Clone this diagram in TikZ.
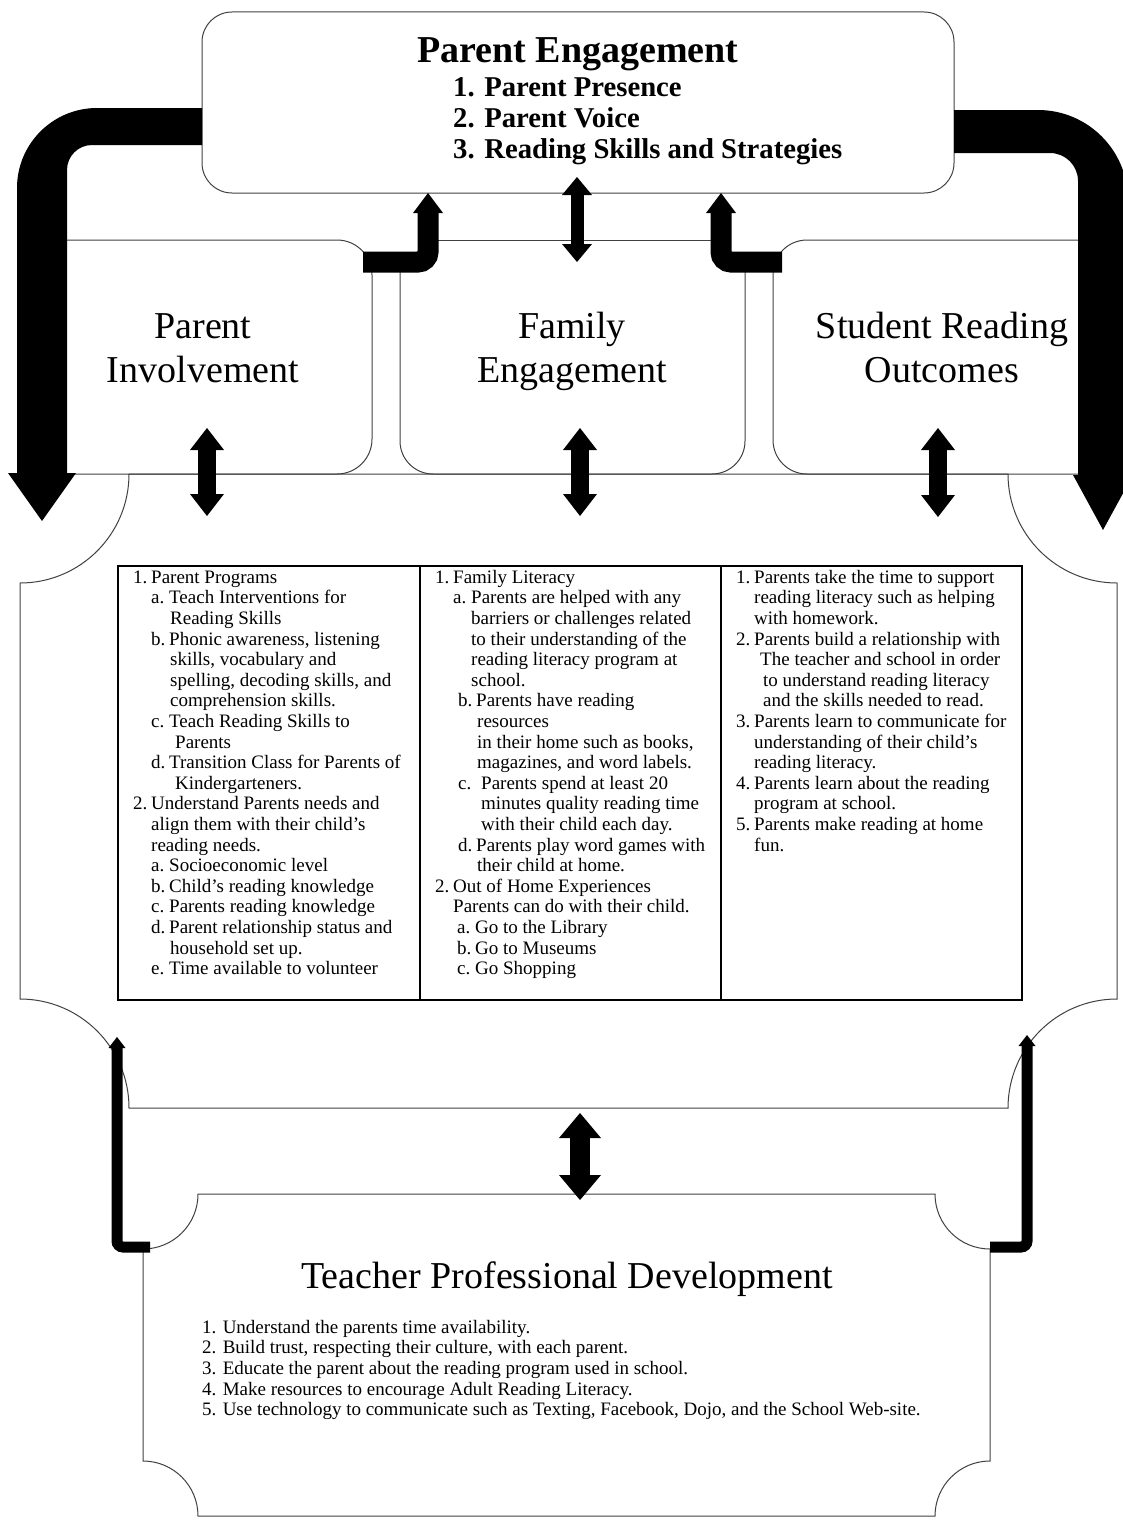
\documentclass[tikz,border=0pt]{standalone}
\usepackage{fontspec}
\setmainfont{Liberation Serif}
\usetikzlibrary{arrows.meta}
\newcommand{\lab}[1]{\makebox[18pt][l]{#1}}
\newcommand{\ind}[1]{\hspace*{#1pt}}

\begin{document}
\begin{tikzpicture}[x=1pt, y=1pt,
    outline/.style={draw=black!75, line width=1pt},
    grid/.style={draw=black, line width=1.5pt},
    body/.style={font=\fontsize{19}{20.6}\selectfont, inner sep=0pt, align=left, anchor=north west},
    heading/.style={font=\fontsize{38}{44}\selectfont, inner sep=0pt, align=center, anchor=north},
    item/.style={font=\fontsize{28.7}{31}\selectfont\bfseries, inner sep=0pt, anchor=base west},
    twoway/.style={line width=18pt, {Triangle[width=34pt, length=22pt, line width=0pt]}-{Triangle[width=34pt, length=22pt, line width=0pt]}},
    twowaytop/.style={line width=13pt, {Triangle[width=30pt, length=18pt, line width=0pt]}-{Triangle[width=30pt, length=18pt, line width=0pt]}},
    twowaylow/.style={line width=20pt, {Triangle[width=42pt, length=25pt, line width=0pt]}-{Triangle[width=42pt, length=25pt, line width=0pt]}},
    upturn/.style={line width=21pt, rounded corners=10pt, -{Triangle[width=30pt, length=20pt, line width=0pt]}},
    sideturn/.style={line width=11pt, rounded corners=6pt, -{Triangle[width=17pt, length=11pt, line width=0pt]}}]
  \useasboundingbox (0,0) rectangle (1122,-1520);

  % frames
  \draw[outline, rounded corners=30pt] (202,-12) rectangle (954,-193);
  \draw[outline] (30,-240) -- (337,-240) arc[start angle=90, end angle=0, radius=35]
    -- (372,-439) arc[start angle=0, end angle=-90, radius=35] -- (30,-474);
  \draw[outline] (428,-240) -- (721,-240);
  \draw[outline] (400,-262) -- (400,-441) arc[start angle=180, end angle=270, radius=33]
    -- (712,-474) arc[start angle=270, end angle=360, radius=33] -- (745,-262);
  \draw[outline] (1100,-240) -- (807,-240) arc[start angle=90, end angle=180, radius=34]
    -- (773,-440) arc[start angle=180, end angle=270, radius=34] -- (1100,-474);
  \draw[outline] (129,-474) -- (1008,-474) arc[start angle=180, end angle=270, radius=109]
    -- (1117,-999) arc[start angle=90, end angle=180, radius=109]
    -- (129,-1108) arc[start angle=0, end angle=90, radius=109]
    -- (20,-583) arc[start angle=270, end angle=360, radius=109] -- cycle;
  \draw[outline] (198,-1194) -- (935,-1194) arc[start angle=180, end angle=270, radius=55]
    -- (990,-1461) arc[start angle=90, end angle=180, radius=55]
    -- (198,-1516) arc[start angle=0, end angle=90, radius=55]
    -- (143,-1249) arc[start angle=270, end angle=360, radius=55] -- cycle;

  % table
  \draw[grid] (118,-566) rectangle (1022,-1000);
  \draw[grid] (420,-566) -- (420,-1000) (721,-566) -- (721,-1000);

  % texts
  \node[font=\fontsize{38}{40}\selectfont\bfseries, inner sep=0pt, anchor=base] (pe) at (578,-63) {Parent Engagement};
  \node[item] (pe1) at (453,-96) {1. Parent Presence};
  \node[item] (pe2) at (453,-127) {2. Parent Voice};
  \node[item] (pe3) at (453,-158) {3. Reading Skills and Strategies};

  \node[heading] (pi) at (203,-307.2) {\strut Parent\\Involvement};
  \node[heading] (fe) at (572,-307.2) {\strut Family\\Engagement};
  \node[heading] (sro) at (942,-307.2) {\strut Student Reading\\Outcomes};

  \node[body] (col1) at (133,-568.6) {\strut\lab{1.}Parent Programs\\
    \ind{18}\lab{a.}Teach Interventions for\\
    \ind{37}Reading Skills\\
    \ind{18}\lab{b.}Phonic awareness, listening\\
    \ind{37}skills, vocabulary and\\
    \ind{37}spelling, decoding skills, and\\
    \ind{37}comprehension skills.\\
    \ind{18}\lab{c.}Teach Reading Skills to\\
    \ind{42}Parents\\
    \ind{18}\lab{d.}Transition Class for Parents of\\
    \ind{42}Kindergarteners.\\
    \lab{2.}Understand Parents needs and\\
    \ind{18}align them with their child's\\
    \ind{18}reading needs.\\
    \ind{18}\lab{a.}Socioeconomic level\\
    \ind{18}\lab{b.}Child's reading knowledge\\
    \ind{18}\lab{c.}Parents reading knowledge\\
    \ind{18}\lab{d.}Parent relationship status and\\
    \ind{37}household set up.\\
    \ind{18}\lab{e.}Time available to volunteer};

  \node[body] (col2) at (435,-568.6) {\strut\lab{1.}Family Literacy\\
    \ind{18}\lab{a.}Parents are helped with any\\
    \ind{36}barriers or challenges related\\
    \ind{36}to their understanding of the\\
    \ind{36}reading literacy program at\\
    \ind{36}school.\\
    \ind{23}\lab{b.}Parents have reading\\
    \ind{42}resources\\
    \ind{42}in their home such as books,\\
    \ind{42}magazines, and word labels.\\
    \ind{23}\makebox[23pt][l]{c.}Parents spend at least 20\\
    \ind{46}minutes quality reading time\\
    \ind{46}with their child each day.\\
    \ind{23}\lab{d.}Parents play word games with\\
    \ind{42}their child at home.\\
    \lab{2.}Out of Home Experiences\\
    \ind{18}Parents can do with their child.\\
    \ind{22}\lab{a.}Go to the Library\\
    \ind{22}\lab{b.}Go to Museums\\
    \ind{22}\lab{c.}Go Shopping};

  \node[body] (col3) at (736,-568.6) {\strut\lab{1.}Parents take the time to support\\
    \ind{18}reading literacy such as helping\\
    \ind{18}with homework.\\
    \lab{2.}Parents build a relationship with\\
    \ind{24}The teacher and school in order\\
    \ind{27}to understand reading literacy\\
    \ind{27}and the skills needed to read.\\
    \lab{3.}Parents learn to communicate for\\
    \ind{18}understanding of their child's\\
    \ind{18}reading literacy.\\
    \lab{4.}Parents learn about the reading\\
    \ind{18}program at school.\\
    \lab{5.}Parents make reading at home\\
    \ind{18}fun.};

  \node[font=\fontsize{38}{44}\selectfont, inner sep=0pt, anchor=base] (tpd) at (567,-1288) {Teacher Professional Development};
  \node[body] (tpdlist) at (202,-1318.6) {\strut 1. Understand the parents time availability.\\
    2. Build trust, respecting their culture, with each parent.\\
    3. Educate the parent about the reading program used in school.\\
    4. Make resources to encourage Adult Reading Literacy.\\
    5. Use technology to communicate such as Texting, Facebook, Dojo, and the School Web-site.};

  % big sweeps from the top box
  \fill (202,-108) -- (97,-108) arc[start angle=90, end angle=180, radius=80] -- (17,-473)
    -- (8,-473) -- (42,-521) -- (76,-473) -- (67,-473)
    -- (67,-170) arc[start angle=180, end angle=90, radius=25] -- (202,-145) -- cycle;
  \fill (954,-110) -- (1038,-110) arc[start angle=90, end angle=0, radius=90] -- (1128,-475)
    -- (1133,-475) -- (1103,-530) -- (1073,-475) -- (1078,-475)
    -- (1078,-181) arc[start angle=0, end angle=90, radius=28] -- (954,-153) -- cycle;

  % connectors
  \coordinate (pe-s) at (577,-177);  \coordinate (fe-n) at (577,-262);
  \coordinate (pi-a) at (207,-428);  \coordinate (pi-b) at (207,-516);
  \coordinate (fe-a) at (580,-428);  \coordinate (fe-b) at (580,-516);
  \coordinate (sro-a) at (938,-428); \coordinate (sro-b) at (938,-517);
  \coordinate (mid-s) at (580,-1113); \coordinate (tpd-n) at (580,-1200);
  \draw[twowaytop] (pe-s) -- (fe-n);
  \draw[twoway] (pi-a) -- (pi-b);
  \draw[twoway] (fe-a) -- (fe-b);
  \draw[twoway] (sro-a) -- (sro-b);
  \draw[twowaylow] (mid-s) -- (tpd-n);

  \coordinate (pi-ne) at (363,-262);   \coordinate (pe-sw) at (428,-193);
  \coordinate (sro-nw) at (782,-262);  \coordinate (pe-se) at (721,-193);
  \draw[upturn] (pi-ne) -- (428,-262) -- (pe-sw);
  \draw[upturn] (sro-nw) -- (721,-262) -- (pe-se);

  \coordinate (tpd-nw) at (150,-1247); \coordinate (mid-sw) at (117,-1037);
  \coordinate (tpd-ne) at (990,-1247); \coordinate (mid-se) at (1027,-1035);
  \draw[sideturn] (tpd-nw) -- (117,-1247) -- (mid-sw);
  \draw[sideturn] (tpd-ne) -- (1027,-1247) -- (mid-se);
\end{tikzpicture}
\end{document}
